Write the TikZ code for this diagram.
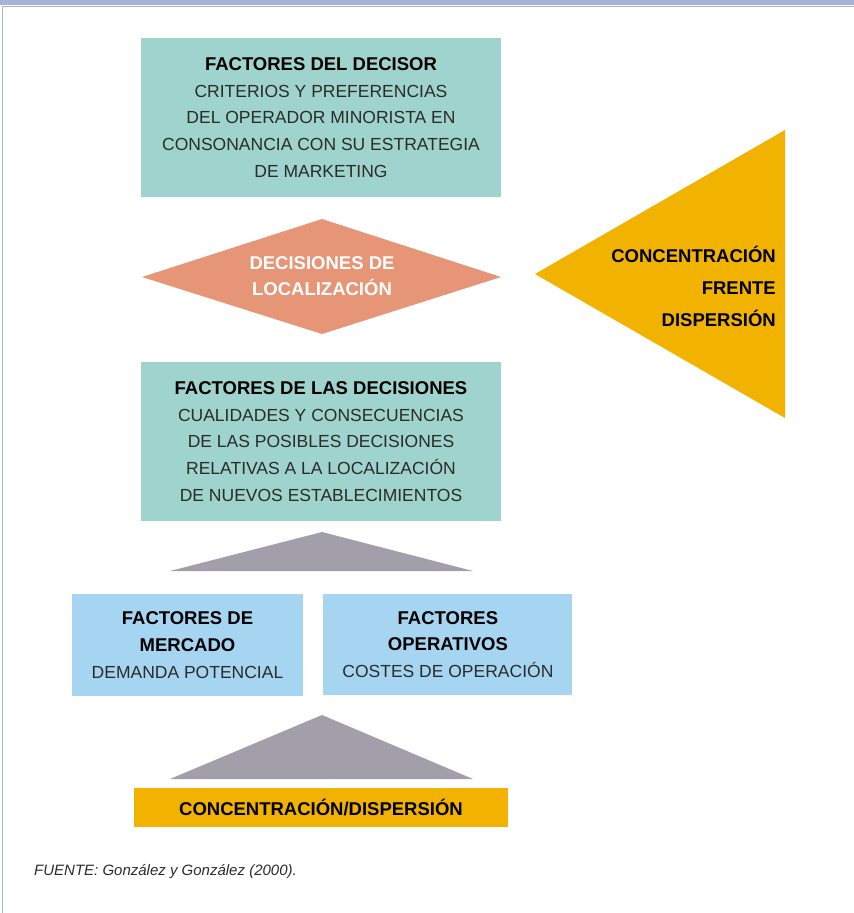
\documentclass[tikz,border=0pt]{standalone}
\usepackage{fontspec}
\setmainfont{Liberation Sans}
\usetikzlibrary{positioning}
\definecolor{verdeagua}{HTML}{9FD3CE}
\definecolor{salmon}{HTML}{E69677}
\definecolor{amarillo}{HTML}{F1B300}
\definecolor{gris}{HTML}{A39FAA}
\definecolor{celeste}{HTML}{A6D5F1}
\definecolor{marco}{HTML}{A8B2D6}
\definecolor{texto}{HTML}{2B2B2B}
\newcommand{\tit}[1]{{\fontsize{18.5}{26.7}\selectfont\bfseries\color{black}#1}}

\begin{document}
\begin{tikzpicture}[x=1pt,y=-1pt,
  caja/.style={rectangle,inner sep=0pt,align=center,text=texto,
    font=\fontsize{17.5}{26.7}\selectfont},
  negrita/.style={inner sep=0pt,align=center,
    font=\fontsize{18.5}{26.7}\selectfont\bfseries}]
\useasboundingbox (0,0) rectangle (854,913);
% marco
\fill[marco] (0,0) rectangle (854,4.5);
\draw[marco,line width=1.5pt] (2.5,913) -- (2.5,6.5) -- (854,6.5);
% factores del decisor
\node[caja,fill=verdeagua,minimum width=360pt,minimum height=159pt] (decisor) at (321,117.5)
  {\tit{FACTORES DEL DECISOR}\\CRITERIOS Y PREFERENCIAS\\DEL OPERADOR MINORISTA EN\\CONSONANCIA CON SU ESTRATEGIA\\DE MARKETING};
% decisiones de localizacion
\fill[salmon] (142,277) -- (322,219) -- (501,277) -- (322,334) -- cycle;
\node[negrita,text=white] (localiz) at (322,276) {DECISIONES DE\\LOCALIZACIÓN};
% concentracion frente dispersion
\fill[amarillo] (535,274) -- (785,130) -- (785,418) -- cycle;
\node[negrita,align=right,anchor=east,font=\fontsize{18.5}{32}\selectfont\bfseries] (frente) at (776,286)
  {CONCENTRACIÓN\\FRENTE\\DISPERSIÓN};
% factores de las decisiones
\node[caja,fill=verdeagua,minimum width=360pt,minimum height=159pt] (decisiones) at (321,441.5)
  {\tit{FACTORES DE LAS DECISIONES}\\CUALIDADES Y CONSECUENCIAS\\DE LAS POSIBLES DECISIONES\\RELATIVAS A LA LOCALIZACIÓN\\DE NUEVOS ESTABLECIMIENTOS};
\fill[gris] (170,571) -- (322,532) -- (473,571) -- cycle;
% factores de mercado y operativos
\node[caja,fill=celeste,minimum width=231pt,minimum height=102pt] (mercado) at (187.5,645)
  {\tit{FACTORES DE}\\\tit{MERCADO}\\DEMANDA POTENCIAL};
\node[caja,fill=celeste,minimum width=249pt,minimum height=101pt,right=20pt of mercado.north east,anchor=north west] (operativos)
  {\tit{FACTORES}\\\tit{OPERATIVOS}\\COSTES DE OPERACIÓN};
\fill[gris] (170,779) -- (322,715) -- (473,779) -- cycle;
% concentracion/dispersion
\node[negrita,fill=amarillo,minimum width=374pt,minimum height=39pt] (concdisp) at (321,807.5)
  {CONCENTRACIÓN/DISPERSIÓN};
% fuente
\node[anchor=west,inner sep=0pt,text=texto,font=\fontsize{15}{18}\selectfont\itshape] (fuente) at (34,872)
  {FUENTE: González y González (2000).};
\end{tikzpicture}
\end{document}
